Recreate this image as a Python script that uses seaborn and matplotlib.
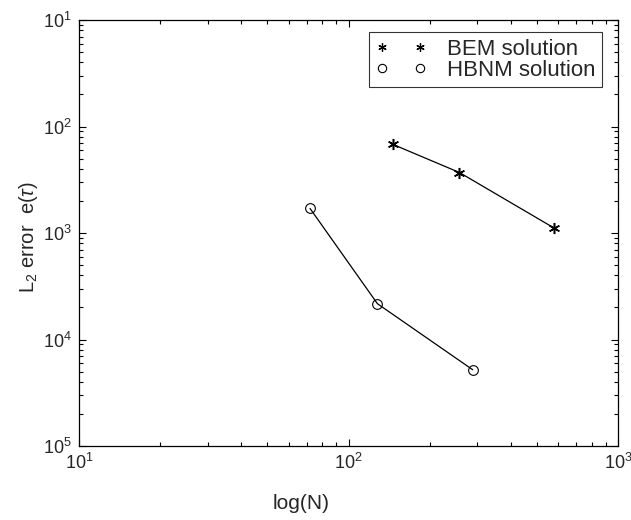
import numpy as np
import pandas as pd
import matplotlib as mpl
mpl.use("Agg")
import matplotlib.pyplot as plt
import seaborn as sns
from matplotlib.lines import Line2D

# datos
bem_n = [146, 258, 577]
bem_err = [6.8e-3, 3.7e-3, 1.12e-3]
hbnm_n = [72, 128, 289]
hbnm_err = [1.7e-3, 2.17e-4, 5.2e-5]
series = ["BEM solution", "HBNM solution"]

x_ticks = [1e1, 1e2, 1e3]
x_ticklabels = ["$10^{1}$", "$10^{2}$", "$10^{3}$"]
y_ticks = [1e-1, 1e-2, 1e-3, 1e-4, 1e-5]
y_ticklabels = ["$10^{1}$", "$10^{2}$", "$10^{3}$", "$10^{4}$", "$10^{5}$"]

sns.set_theme(style="ticks")
plt.rcParams["font.family"] = ["Liberation Sans", "DejaVu Sans"]
plt.rcParams["mathtext.fontset"] = "custom"
plt.rcParams["mathtext.rm"] = "Liberation Sans"
plt.rcParams["mathtext.it"] = "Liberation Sans:italic"

df_bem = pd.DataFrame({"N": bem_n, "err": bem_err})
df_hbnm = pd.DataFrame({"N": hbnm_n, "err": hbnm_err})

asterisco = (6, 2, 0)

fig = plt.figure(figsize=(6.31, 5.2), dpi=100)
ax = fig.add_axes([0.1252, 0.1423, 0.8542, 0.8192])

sns.lineplot(data=df_bem, x="N", y="err", ax=ax, color="black", lw=0.9,
             marker=asterisco, markersize=8, markeredgecolor="black",
             markeredgewidth=1.1, sort=False)
sns.lineplot(data=df_hbnm, x="N", y="err", ax=ax, color="black", lw=0.9,
             marker="o", markersize=7, markerfacecolor="none",
             markeredgecolor="black", markeredgewidth=0.8, sort=False)

ax.set_xscale("log")
ax.set_yscale("log")
ax.set_xlim(1e1, 1e3)
ax.set_ylim(1e-5, 1e-1)
ax.set_xticks(x_ticks)
ax.set_xticklabels(x_ticklabels, fontsize=13)
ax.set_yticks(y_ticks)
ax.set_yticklabels(y_ticklabels, fontsize=13)

ax.tick_params(which="both", direction="in", top=True, right=True,
               color="black", width=0.8)
ax.tick_params(which="major", length=5, pad=5)
ax.tick_params(which="minor", length=3)
for s in ax.spines.values():
    s.set_color("black")
    s.set_linewidth(0.9)

ax.set_xlabel("log(N)", fontsize=15)
ax.set_ylabel(r"L$_2$ error  e($\tau$)", fontsize=14.5)
ax.xaxis.set_label_coords(0.412, -0.112)
ax.yaxis.set_label_coords(-0.072, 0.49)

# leyenda estilo matlab: dos marcadores sin linea
handles = [
    Line2D([], [], ls="", marker=asterisco, color="black", markersize=6,
           markeredgewidth=0.9),
    Line2D([], [], ls="", marker="o", color="black", markerfacecolor="none",
           markersize=6, markeredgewidth=0.8),
]
leg = ax.legend(handles, series, loc="upper right", numpoints=2,
                fontsize=16, frameon=True, fancybox=False,
                bbox_to_anchor=(0.970, 0.972), handlelength=2.3,
                handletextpad=0.9, borderpad=0.3, labelspacing=0.0,
                borderaxespad=0)
leg.get_frame().set_edgecolor("black")
leg.get_frame().set_linewidth(0.8)

fig.savefig("out.png", dpi=100)
